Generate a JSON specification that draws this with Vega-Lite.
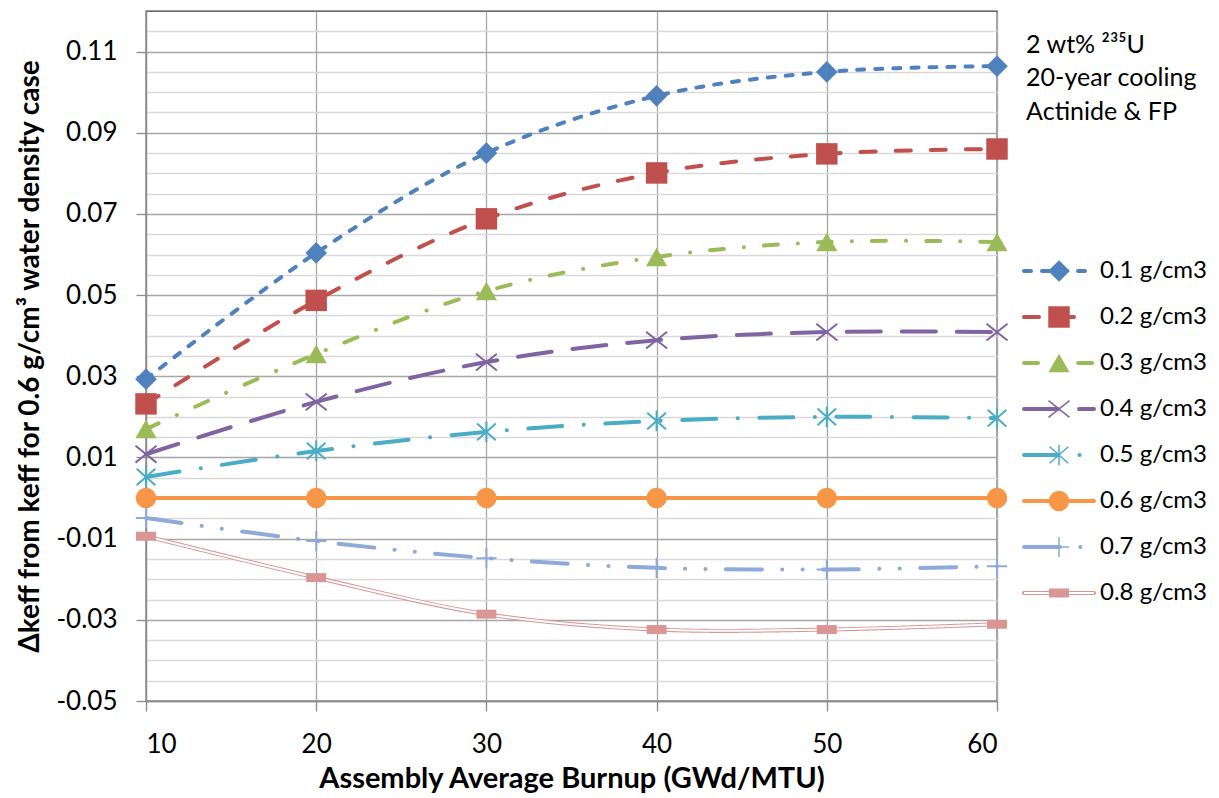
{
  "$schema": "https://vega.github.io/schema/vega-lite/v6.json",
  "padding": {"left": 16, "top": 10, "right": 5, "bottom": 5},
  "autosize": {"type": "pad"},
  "bounds": "flush",
  "spacing": 27,
  "config": {
    "font": "Lato",
    "view": {"stroke": "#3a3a3a", "strokeWidth": 1.3},
    "axis": {"labelColor": "#000000", "titleColor": "#000000", "labelFont": "Lato", "titleFont": "Lato"}
  },
  "datasets": {
    "series": [
      {"burnup": 10, "dk": 0.0293, "density": "0.1 g/cm3"},
      {"burnup": 20, "dk": 0.0604, "density": "0.1 g/cm3"},
      {"burnup": 30, "dk": 0.085, "density": "0.1 g/cm3"},
      {"burnup": 40, "dk": 0.0991, "density": "0.1 g/cm3"},
      {"burnup": 50, "dk": 0.105, "density": "0.1 g/cm3"},
      {"burnup": 60, "dk": 0.1064, "density": "0.1 g/cm3"},
      {"burnup": 10, "dk": 0.0232, "density": "0.2 g/cm3"},
      {"burnup": 20, "dk": 0.0487, "density": "0.2 g/cm3"},
      {"burnup": 30, "dk": 0.0688, "density": "0.2 g/cm3"},
      {"burnup": 40, "dk": 0.0801, "density": "0.2 g/cm3"},
      {"burnup": 50, "dk": 0.0848, "density": "0.2 g/cm3"},
      {"burnup": 60, "dk": 0.086, "density": "0.2 g/cm3"},
      {"burnup": 10, "dk": 0.017, "density": "0.3 g/cm3"},
      {"burnup": 20, "dk": 0.0355, "density": "0.3 g/cm3"},
      {"burnup": 30, "dk": 0.051, "density": "0.3 g/cm3"},
      {"burnup": 40, "dk": 0.0594, "density": "0.3 g/cm3"},
      {"burnup": 50, "dk": 0.0631, "density": "0.3 g/cm3"},
      {"burnup": 60, "dk": 0.0631, "density": "0.3 g/cm3"},
      {"burnup": 10, "dk": 0.0108, "density": "0.4 g/cm3"},
      {"burnup": 20, "dk": 0.0237, "density": "0.4 g/cm3"},
      {"burnup": 30, "dk": 0.0335, "density": "0.4 g/cm3"},
      {"burnup": 40, "dk": 0.0389, "density": "0.4 g/cm3"},
      {"burnup": 50, "dk": 0.0409, "density": "0.4 g/cm3"},
      {"burnup": 60, "dk": 0.0409, "density": "0.4 g/cm3"},
      {"burnup": 10, "dk": 0.0052, "density": "0.5 g/cm3"},
      {"burnup": 20, "dk": 0.0116, "density": "0.5 g/cm3"},
      {"burnup": 30, "dk": 0.0163, "density": "0.5 g/cm3"},
      {"burnup": 40, "dk": 0.019, "density": "0.5 g/cm3"},
      {"burnup": 50, "dk": 0.02, "density": "0.5 g/cm3"},
      {"burnup": 60, "dk": 0.0197, "density": "0.5 g/cm3"},
      {"burnup": 10, "dk": 0, "density": "0.6 g/cm3"},
      {"burnup": 20, "dk": 0, "density": "0.6 g/cm3"},
      {"burnup": 30, "dk": 0, "density": "0.6 g/cm3"},
      {"burnup": 40, "dk": 0, "density": "0.6 g/cm3"},
      {"burnup": 50, "dk": 0, "density": "0.6 g/cm3"},
      {"burnup": 60, "dk": 0, "density": "0.6 g/cm3"},
      {"burnup": 10, "dk": -0.0049, "density": "0.7 g/cm3"},
      {"burnup": 20, "dk": -0.0106, "density": "0.7 g/cm3"},
      {"burnup": 30, "dk": -0.0148, "density": "0.7 g/cm3"},
      {"burnup": 40, "dk": -0.0172, "density": "0.7 g/cm3"},
      {"burnup": 50, "dk": -0.0176, "density": "0.7 g/cm3"},
      {"burnup": 60, "dk": -0.0168, "density": "0.7 g/cm3"},
      {"burnup": 10, "dk": -0.0094, "density": "0.8 g/cm3"},
      {"burnup": 20, "dk": -0.0196, "density": "0.8 g/cm3"},
      {"burnup": 30, "dk": -0.0286, "density": "0.8 g/cm3"},
      {"burnup": 40, "dk": -0.0324, "density": "0.8 g/cm3"},
      {"burnup": 50, "dk": -0.0324, "density": "0.8 g/cm3"},
      {"burnup": 60, "dk": -0.0311, "density": "0.8 g/cm3"}
    ],
    "legend": [
      {"density": "0.1 g/cm3"},
      {"density": "0.2 g/cm3"},
      {"density": "0.3 g/cm3"},
      {"density": "0.4 g/cm3"},
      {"density": "0.5 g/cm3"},
      {"density": "0.6 g/cm3"},
      {"density": "0.7 g/cm3"},
      {"density": "0.8 g/cm3"}
    ],
    "note": [
      {"line": "2 wt% ²³⁵U"},
      {"line": "20-year cooling"},
      {"line": "Actinide & FP"}
    ]
  },
  "hconcat": [
    {
      "width": 851,
      "height": 690,
      "data": {"name": "series"},
      "encoding": {
        "x": {
          "field": "burnup", "type": "quantitative",
          "scale": {"domain": [10, 60], "nice": false, "zero": false},
          "axis": {
            "title": "Assembly Average Burnup (GWd/MTU)",
            "values": [10, 20, 30, 40, 50, 60],
            "grid": true, "gridColor": "#a6a6a6", "gridWidth": 1.3,
            "domainColor": "#8c8c8c", "domainWidth": 1.3,
            "tickColor": "#8c8c8c", "tickSize": 10, "tickWidth": 1.3,
            "labelFontSize": 26, "labelPadding": 20,
            "titleFontSize": 29, "titleFontWeight": "bold", "titlePadding": 7
          }
        },
        "y": {
          "field": "dk", "type": "quantitative",
          "scale": {"domain": [-0.05, 0.12], "nice": false, "zero": false},
          "axis": {
            "title": "Δkeff from keff for 0.6 g/cm³ water density case",
            "values": [-0.05, -0.045, -0.04, -0.035, -0.03, -0.025, -0.02, -0.015, -0.01, -0.005, 0, 0.005, 0.01, 0.015, 0.02, 0.025, 0.03, 0.035, 0.04, 0.045, 0.05, 0.055, 0.06, 0.065, 0.07, 0.075, 0.08, 0.085, 0.09, 0.095, 0.1, 0.105, 0.11, 0.115],
            "labelExpr": "abs((datum.value + 0.05) / 0.02 - round((datum.value + 0.05) / 0.02)) < 0.01 ? replace(format(datum.value, '.2f'), '−', '-') : ''",
            "grid": true, "gridWidth": 1.3,
            "gridColor": {"condition": {"test": "abs((datum.value + 0.05) / 0.02 - round((datum.value + 0.05) / 0.02)) < 0.01", "value": "#a6a6a6"}, "value": "#d9d9d9"},
            "tickOpacity": {"condition": {"test": "abs((datum.value + 0.05) / 0.02 - round((datum.value + 0.05) / 0.02)) < 0.01", "value": 1}, "value": 0},
            "domainColor": "#8c8c8c", "domainWidth": 1.3,
            "tickColor": "#8c8c8c", "tickSize": 10, "tickWidth": 1.3,
            "labelFontSize": 26, "labelPadding": 19,
            "titleFontSize": 28, "titleFontWeight": "bold", "titlePadding": 11
          }
        }
      },
      "layer": [
        {
          "mark": {"type": "line", "interpolate": "catmull-rom", "strokeCap": "round"},
          "encoding": {
            "color": {
              "field": "density", "type": "nominal", "legend": null,
              "scale": {
                "domain": ["0.1 g/cm3", "0.2 g/cm3", "0.3 g/cm3", "0.4 g/cm3", "0.5 g/cm3", "0.6 g/cm3", "0.7 g/cm3", "0.8 g/cm3"],
                "range": ["#4F81BD", "#C0504D", "#9BBB59", "#8064A2", "#4BACC6", "#F79646", "#8EAAD8", "#D99694"]
              }
            },
            "strokeDash": {
              "field": "density", "type": "nominal", "legend": null,
              "scale": {
                "domain": ["0.1 g/cm3", "0.2 g/cm3", "0.3 g/cm3", "0.4 g/cm3", "0.5 g/cm3", "0.6 g/cm3", "0.7 g/cm3", "0.8 g/cm3"],
                "range": [[7, 11], [15, 20], [14, 20, 0.1, 20], [34, 21], [34, 21.5, 0.1, 21.5], [1, 0], [36, 20.3, 0.1, 20.3, 0.1, 20.3], [1, 0]]
              }
            },
            "strokeWidth": {
              "field": "density", "type": "nominal", "legend": null,
              "scale": {
                "domain": ["0.1 g/cm3", "0.2 g/cm3", "0.3 g/cm3", "0.4 g/cm3", "0.5 g/cm3", "0.6 g/cm3", "0.7 g/cm3", "0.8 g/cm3"],
                "range": [4, 4, 4, 4, 4, 4, 4, 6.5]
              }
            }
          }
        },
        {
          "transform": [{"filter": "datum.density === '0.8 g/cm3'"}],
          "mark": {"type": "line", "interpolate": "catmull-rom", "stroke": "#ffffff", "strokeWidth": 2}
        },
        {
          "transform": [{"filter": "indexof(['0.4 g/cm3', '0.5 g/cm3', '0.7 g/cm3'], datum.density) < 0"}],
          "mark": {"type": "point", "filled": true, "opacity": 1},
          "encoding": {
            "color": {
              "field": "density", "type": "nominal", "legend": null,
              "scale": {
                "domain": ["0.1 g/cm3", "0.2 g/cm3", "0.3 g/cm3", "0.4 g/cm3", "0.5 g/cm3", "0.6 g/cm3", "0.7 g/cm3", "0.8 g/cm3"],
                "range": ["#4F81BD", "#C0504D", "#9BBB59", "#8064A2", "#4BACC6", "#F79646", "#8EAAD8", "#D99694"]
              }
            },
            "shape": {
              "field": "density", "type": "nominal", "legend": null,
              "scale": {
                "domain": ["0.1 g/cm3", "0.2 g/cm3", "0.3 g/cm3", "0.4 g/cm3", "0.5 g/cm3", "0.6 g/cm3", "0.7 g/cm3", "0.8 g/cm3"],
                "range": ["diamond", "square", "triangle-up", "M-1,-0.8L1,0.8M-1,0.8L1,-0.8", "M-0.9,-0.8L0.9,0.8M-0.9,0.8L0.9,-0.8M0,-1L0,1", "circle", "M-1,0L1,0M0,-1L0,1", "M-1,-0.45L1,-0.45L1,0.45L-1,0.45Z"]
              }
            },
            "size": {
              "field": "density", "type": "nominal", "legend": null,
              "scale": {
                "domain": ["0.1 g/cm3", "0.2 g/cm3", "0.3 g/cm3", "0.4 g/cm3", "0.5 g/cm3", "0.6 g/cm3", "0.7 g/cm3", "0.8 g/cm3"],
                "range": [470, 400, 550, 576, 484, 530, 484, 225]
              }
            }
          }
        },
        {
          "transform": [{"filter": "indexof(['0.4 g/cm3', '0.5 g/cm3', '0.7 g/cm3'], datum.density) >= 0"}],
          "mark": {"type": "point", "filled": false, "strokeWidth": 2, "opacity": 1},
          "encoding": {
            "color": {
              "field": "density", "type": "nominal", "legend": null,
              "scale": {
                "domain": ["0.1 g/cm3", "0.2 g/cm3", "0.3 g/cm3", "0.4 g/cm3", "0.5 g/cm3", "0.6 g/cm3", "0.7 g/cm3", "0.8 g/cm3"],
                "range": ["#4F81BD", "#C0504D", "#9BBB59", "#8064A2", "#4BACC6", "#F79646", "#8EAAD8", "#D99694"]
              }
            },
            "shape": {
              "field": "density", "type": "nominal", "legend": null,
              "scale": {
                "domain": ["0.1 g/cm3", "0.2 g/cm3", "0.3 g/cm3", "0.4 g/cm3", "0.5 g/cm3", "0.6 g/cm3", "0.7 g/cm3", "0.8 g/cm3"],
                "range": ["diamond", "square", "triangle-up", "M-1,-0.8L1,0.8M-1,0.8L1,-0.8", "M-0.9,-0.8L0.9,0.8M-0.9,0.8L0.9,-0.8M0,-1L0,1", "circle", "M-1,0L1,0M0,-1L0,1", "M-1,-0.45L1,-0.45L1,0.45L-1,0.45Z"]
              }
            },
            "size": {
              "field": "density", "type": "nominal", "legend": null,
              "scale": {
                "domain": ["0.1 g/cm3", "0.2 g/cm3", "0.3 g/cm3", "0.4 g/cm3", "0.5 g/cm3", "0.6 g/cm3", "0.7 g/cm3", "0.8 g/cm3"],
                "range": [470, 400, 550, 576, 484, 530, 484, 225]
              }
            }
          }
        }
      ]
    },
    {
      "bounds": "flush",
      "spacing": 80,
      "vconcat": [
        {
          "width": 70,
          "height": 134,
          "view": {"stroke": null},
          "data": {"name": "note"},
          "mark": {"type": "text", "align": "left", "baseline": "middle", "fontSize": 25, "font": "Lato", "color": "#000000"},
          "encoding": {
            "y": {"field": "line", "type": "nominal", "sort": null, "axis": null,
                  "scale": {"type": "point", "padding": 1}},
            "x": {"datum": 0.03, "type": "quantitative", "scale": {"domain": [0, 1], "nice": false, "zero": false}, "axis": null},
            "text": {"field": "line"}
          }
        },
        {
          "width": 70,
          "height": 414,
          "view": {"stroke": null},
          "data": {"name": "legend"},
          "encoding": {
            "y": {"field": "density", "type": "nominal", "axis": null,
                  "scale": {"type": "point", "padding": 1,
                            "domain": ["0.1 g/cm3", "0.2 g/cm3", "0.3 g/cm3", "0.4 g/cm3", "0.5 g/cm3", "0.6 g/cm3", "0.7 g/cm3", "0.8 g/cm3"]}}
          },
          "layer": [
            {
              "mark": {"type": "rule", "strokeCap": "round"},
              "encoding": {
                "x": {"datum": 0, "type": "quantitative", "scale": {"domain": [0, 1], "nice": false, "zero": false}, "axis": null},
                "x2": {"datum": 1},
                "color": {
                  "field": "density", "type": "nominal", "legend": null,
                  "scale": {
                    "domain": ["0.1 g/cm3", "0.2 g/cm3", "0.3 g/cm3", "0.4 g/cm3", "0.5 g/cm3", "0.6 g/cm3", "0.7 g/cm3", "0.8 g/cm3"],
                    "range": ["#4F81BD", "#C0504D", "#9BBB59", "#8064A2", "#4BACC6", "#F79646", "#8EAAD8", "#D99694"]
                  }
                },
                "strokeDash": {
                  "field": "density", "type": "nominal", "legend": null,
                  "scale": {
                    "domain": ["0.1 g/cm3", "0.2 g/cm3", "0.3 g/cm3", "0.4 g/cm3", "0.5 g/cm3", "0.6 g/cm3", "0.7 g/cm3", "0.8 g/cm3"],
                    "range": [[7, 11], [15, 20], [14, 20, 0.1, 20], [34, 21], [34, 21.5, 0.1, 21.5], [1, 0], [36, 20.3, 0.1, 20.3, 0.1, 20.3], [1, 0]]
                  }
                },
                "strokeWidth": {
                  "field": "density", "type": "nominal", "legend": null,
                  "scale": {
                    "domain": ["0.1 g/cm3", "0.2 g/cm3", "0.3 g/cm3", "0.4 g/cm3", "0.5 g/cm3", "0.6 g/cm3", "0.7 g/cm3", "0.8 g/cm3"],
                    "range": [4, 4, 4, 4, 4, 4, 4, 6.5]
                  }
                }
              }
            },
            {
              "transform": [{"filter": "datum.density === '0.8 g/cm3'"}],
              "mark": {"type": "rule", "stroke": "#ffffff", "strokeWidth": 2},
              "encoding": {
                "x": {"datum": 0, "type": "quantitative"},
                "x2": {"datum": 1}
              }
            },
            {
              "transform": [{"filter": "indexof(['0.4 g/cm3', '0.5 g/cm3', '0.7 g/cm3'], datum.density) < 0"}],
              "mark": {"type": "point", "filled": true, "opacity": 1},
              "encoding": {
                "x": {"datum": 0.5, "type": "quantitative"},
                "color": {
                  "field": "density", "type": "nominal", "legend": null,
                  "scale": {
                    "domain": ["0.1 g/cm3", "0.2 g/cm3", "0.3 g/cm3", "0.4 g/cm3", "0.5 g/cm3", "0.6 g/cm3", "0.7 g/cm3", "0.8 g/cm3"],
                    "range": ["#4F81BD", "#C0504D", "#9BBB59", "#8064A2", "#4BACC6", "#F79646", "#8EAAD8", "#D99694"]
                  }
                },
                "shape": {
                  "field": "density", "type": "nominal", "legend": null,
                  "scale": {
                    "domain": ["0.1 g/cm3", "0.2 g/cm3", "0.3 g/cm3", "0.4 g/cm3", "0.5 g/cm3", "0.6 g/cm3", "0.7 g/cm3", "0.8 g/cm3"],
                    "range": ["diamond", "square", "triangle-up", "M-1,-0.8L1,0.8M-1,0.8L1,-0.8", "M-0.9,-0.8L0.9,0.8M-0.9,0.8L0.9,-0.8M0,-1L0,1", "circle", "M-1,0L1,0M0,-1L0,1", "M-1,-0.45L1,-0.45L1,0.45L-1,0.45Z"]
                  }
                },
                "size": {
                  "field": "density", "type": "nominal", "legend": null,
                  "scale": {
                    "domain": ["0.1 g/cm3", "0.2 g/cm3", "0.3 g/cm3", "0.4 g/cm3", "0.5 g/cm3", "0.6 g/cm3", "0.7 g/cm3", "0.8 g/cm3"],
                    "range": [400, 330, 330, 576, 484, 380, 484, 0]
                  }
                }
              }
            },
            {
              "transform": [{"filter": "indexof(['0.4 g/cm3', '0.5 g/cm3', '0.7 g/cm3'], datum.density) >= 0"}],
              "mark": {"type": "point", "filled": false, "strokeWidth": 1.5, "opacity": 1},
              "encoding": {
                "x": {"datum": 0.5, "type": "quantitative"},
                "color": {
                  "field": "density", "type": "nominal", "legend": null,
                  "scale": {
                    "domain": ["0.1 g/cm3", "0.2 g/cm3", "0.3 g/cm3", "0.4 g/cm3", "0.5 g/cm3", "0.6 g/cm3", "0.7 g/cm3", "0.8 g/cm3"],
                    "range": ["#4F81BD", "#C0504D", "#9BBB59", "#8064A2", "#4BACC6", "#F79646", "#8EAAD8", "#D99694"]
                  }
                },
                "shape": {
                  "field": "density", "type": "nominal", "legend": null,
                  "scale": {
                    "domain": ["0.1 g/cm3", "0.2 g/cm3", "0.3 g/cm3", "0.4 g/cm3", "0.5 g/cm3", "0.6 g/cm3", "0.7 g/cm3", "0.8 g/cm3"],
                    "range": ["diamond", "square", "triangle-up", "M-1,-0.8L1,0.8M-1,0.8L1,-0.8", "M-0.9,-0.8L0.9,0.8M-0.9,0.8L0.9,-0.8M0,-1L0,1", "circle", "M-1,0L1,0M0,-1L0,1", "M-1,-0.45L1,-0.45L1,0.45L-1,0.45Z"]
                  }
                },
                "size": {
                  "field": "density", "type": "nominal", "legend": null,
                  "scale": {
                    "domain": ["0.1 g/cm3", "0.2 g/cm3", "0.3 g/cm3", "0.4 g/cm3", "0.5 g/cm3", "0.6 g/cm3", "0.7 g/cm3", "0.8 g/cm3"],
                    "range": [400, 330, 330, 576, 484, 380, 484, 0]
                  }
                }
              }
            },
            {
              "mark": {"type": "text", "align": "left", "baseline": "middle", "fontSize": 24, "font": "Lato", "color": "#000000"},
              "encoding": {
                "x": {"datum": 1.086, "type": "quantitative"},
                "text": {"field": "density"}
              }
            }
          ]
        }
      ]
    }
  ]
}
